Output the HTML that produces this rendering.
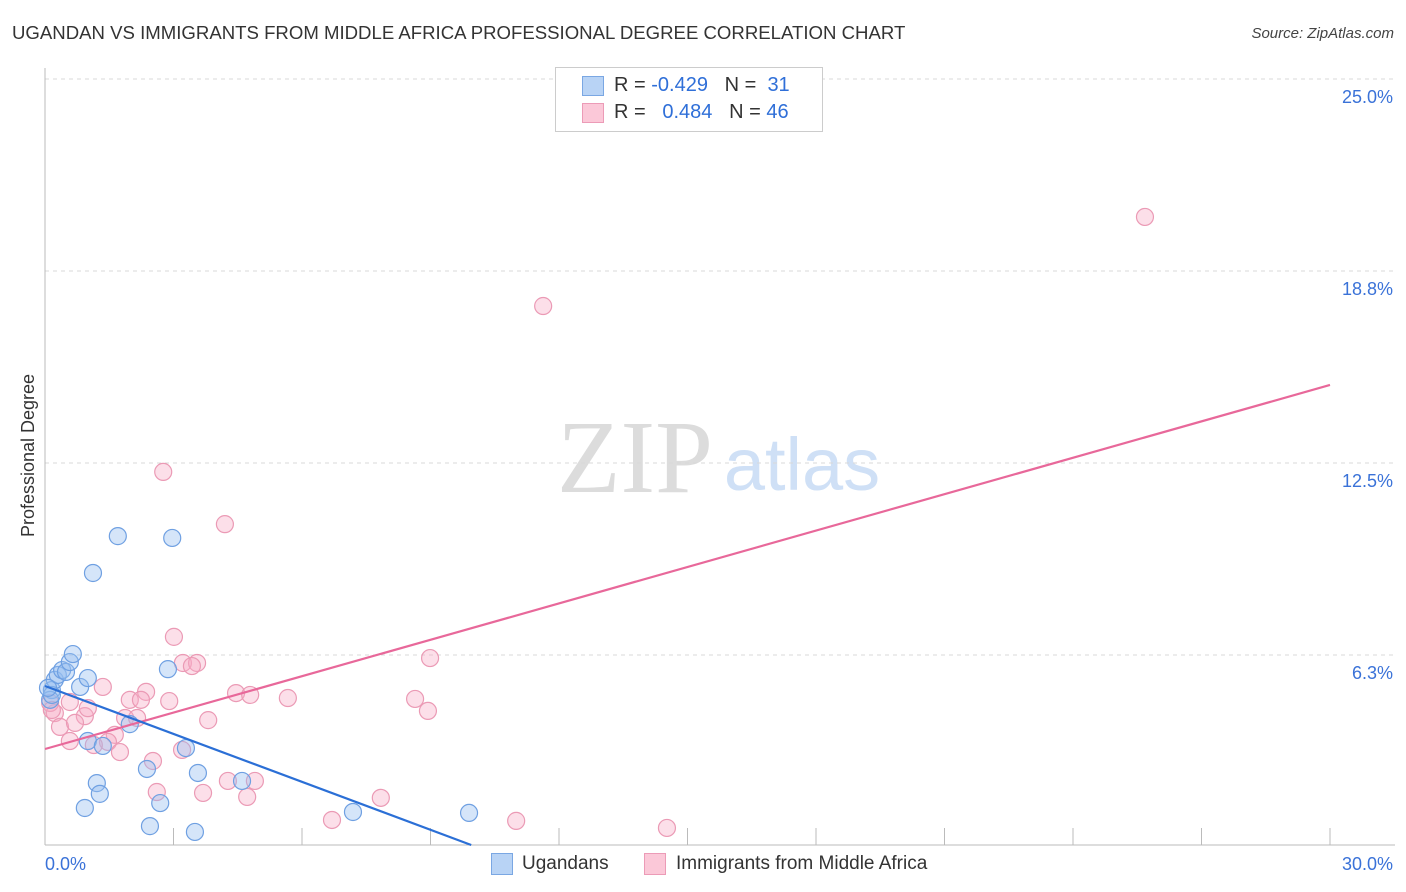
<!DOCTYPE html>
<html><head><meta charset="utf-8"><style>
body{margin:0;background:#fff;font-family:"Liberation Sans",sans-serif;}
#wrap{position:relative;width:1406px;height:892px;overflow:hidden;}
.t{position:absolute;white-space:nowrap;}
</style></head><body>
<div id="wrap">
<div class="t" style="left:12px;top:22px;font-size:18.6px;color:#333;">UGANDAN VS IMMIGRANTS FROM MIDDLE AFRICA PROFESSIONAL DEGREE CORRELATION CHART</div>
<div class="t" style="right:12px;top:25px;font-size:15px;color:#444;font-style:italic;">Source: ZipAtlas.com</div>
<div class="t" style="left:-53px;top:445px;font-size:18px;color:#333;transform:rotate(-90deg);">Professional Degree</div>
<svg id="plot" width="1406" height="892" style="position:absolute;left:0;top:0"></svg>
<div style="position:absolute;left:555px;top:67px;width:266px;height:63px;border:1px solid #ccc;background:#fff;">
<div style="position:absolute;left:26px;top:8px;width:20px;height:18px;background:#b8d3f5;border:1px solid #7aa7e3;"></div>
<div style="position:absolute;left:26px;top:35px;width:20px;height:18px;background:#fbc8d8;border:1px solid #ec9bb7;"></div>
<div class="t" style="left:58px;top:6px;font-size:20px;color:#333;">R = <span style="color:#2f6fd8">-0.429</span>&nbsp;&nbsp;&nbsp;N = &nbsp;<span style="color:#2f6fd8">31</span></div>
<div class="t" style="left:58px;top:33px;font-size:20px;color:#333;">R = &nbsp;&nbsp;<span style="color:#2f6fd8">0.484</span>&nbsp;&nbsp;&nbsp;N = <span style="color:#2f6fd8">46</span></div>
</div>
<div style="position:absolute;left:491px;top:853px;width:20px;height:20px;background:#b8d3f5;border:1px solid #7aa7e3;"></div>
<div class="t" style="left:522px;top:853px;font-size:19px;color:#333;">Ugandans</div>
<div style="position:absolute;left:644px;top:853px;width:20px;height:20px;background:#fbc8d8;border:1px solid #ec9bb7;"></div>
<div class="t" style="left:676px;top:853px;font-size:19px;color:#333;">Immigrants from Middle Africa</div>
</div>
<script>
const yTicks=[6.25,12.5,18.75,25];
const yTickLabels=["6.3%","12.5%","18.8%","25.0%"];
const xTicks=[0,3,6,9,12,15,18,21,24,27,30];
const xEndLabels=["0.0%","30.0%"];
const blueX=[0.16,0.23,0.30,0.40,0.49,0.58,0.65,0.82,1.00,1.70,2.97,1.12,2.87,1.98,1.00,1.35,3.29,2.38,3.57,1.21,1.28,0.93,2.69,4.60,7.19,9.90,2.45,3.50,0.12,0.16,0.07];
const blueY=[5.11,5.44,5.60,5.76,5.70,6.02,6.28,5.21,5.50,10.12,10.06,8.92,5.79,4.00,3.45,3.29,3.22,2.54,2.41,2.08,1.73,1.27,1.43,2.15,1.14,1.11,0.68,0.49,4.79,4.95,5.18];
const pinkX=[25.68,11.63,2.76,4.20,3.01,3.22,3.55,3.43,8.99,1.35,2.36,1.98,2.24,2.90,4.46,4.79,5.67,8.64,8.94,0.23,0.58,0.93,1.87,2.15,3.81,0.35,0.70,1.00,1.63,1.47,1.14,0.58,1.75,2.52,3.20,4.27,4.90,2.61,3.69,4.72,7.84,6.70,11.00,14.52,0.12,0.16];
const pinkY=[20.51,17.61,12.21,10.51,6.84,5.99,5.99,5.89,6.15,5.21,5.05,4.79,4.79,4.75,5.01,4.95,4.85,4.82,4.43,4.36,4.72,4.26,4.20,4.20,4.13,3.91,4.04,4.52,3.65,3.42,3.32,3.45,3.09,2.80,3.16,2.15,2.15,1.79,1.76,1.63,1.60,0.88,0.85,0.62,4.69,4.46];
const blueTrend=[5.24,-0.52];   // intercept, slope
const pinkTrend=[3.19,0.395];
const blueTrendRange=[0,9.95];
const pinkTrendRange=[0,30];

const NS="http://www.w3.org/2000/svg";
const svg=document.getElementById('plot');
const sx=v=>45+v*1285/30;
const sy=v=>847-v*30.72;
function mk(tag,attrs){const e=document.createElementNS(NS,tag);for(const k in attrs)e.setAttribute(k,attrs[k]);svg.appendChild(e);return e;}
function txt(x,y,s,anchor,color,size){const e=mk('text',{x:x,y:y,'text-anchor':anchor,fill:color,'font-size':size,'font-family':'Liberation Sans, sans-serif'});e.textContent=s;return e;}

let w1=txt(635,492,'ZIP','middle','#dcdcdc',104);w1.setAttribute('font-family','Liberation Serif, serif');


let w2=txt(802,490,'atlas','middle','#cfe0f6',74);



yTicks.forEach((v,i)=>{
 const g=mk('line',{x1:45,x2:1395,y1:sy(v),y2:sy(v),stroke:'#d8d8d8','stroke-dasharray':'4,4'});
 
 
 const l=txt(1393,sy(v)+24,yTickLabels[i],'end','#3a72d8',18);
 
 
});
const ax=mk('line',{x1:45,x2:45,y1:68,y2:845,stroke:'#bbb'});


const bx=mk('line',{x1:45,x2:1395,y1:845,y2:845,stroke:'#bbb'});


xTicks.forEach(v=>{
 const t=mk('line',{x1:sx(v),x2:sx(v),y1:828,y2:845,stroke:'#bbb'});
 
 
});
const xl0=txt(45,870,xEndLabels[0],'start','#3a72d8',18);


const xl1=txt(1393,870,xEndLabels[1],'end','#3a72d8',18);



pinkX.forEach((x,i)=>{
 const c=mk('circle',{cx:sx(x),cy:sy(pinkY[i]),r:8.5,fill:'rgba(246,172,196,0.38)',stroke:'#eb9ab5','stroke-width':1.2});
 
 
});
blueX.forEach((x,i)=>{
 const c=mk('circle',{cx:sx(x),cy:sy(blueY[i]),r:8.5,fill:'rgba(150,190,240,0.4)',stroke:'#6fa0e2','stroke-width':1.2});
 
 
});
const pl=mk('line',{x1:sx(pinkTrendRange[0]),y1:sy(pinkTrend[0]+pinkTrend[1]*pinkTrendRange[0]),x2:sx(pinkTrendRange[1]),y2:sy(pinkTrend[0]+pinkTrend[1]*pinkTrendRange[1]),stroke:'#e8689a','stroke-width':2.2});


const bl=mk('line',{x1:sx(blueTrendRange[0]),y1:sy(blueTrend[0]+blueTrend[1]*blueTrendRange[0]),x2:sx(blueTrendRange[1]),y2:sy(blueTrend[0]+blueTrend[1]*blueTrendRange[1]),stroke:'#2b6fd6','stroke-width':2.2});


</script>
</body></html>
